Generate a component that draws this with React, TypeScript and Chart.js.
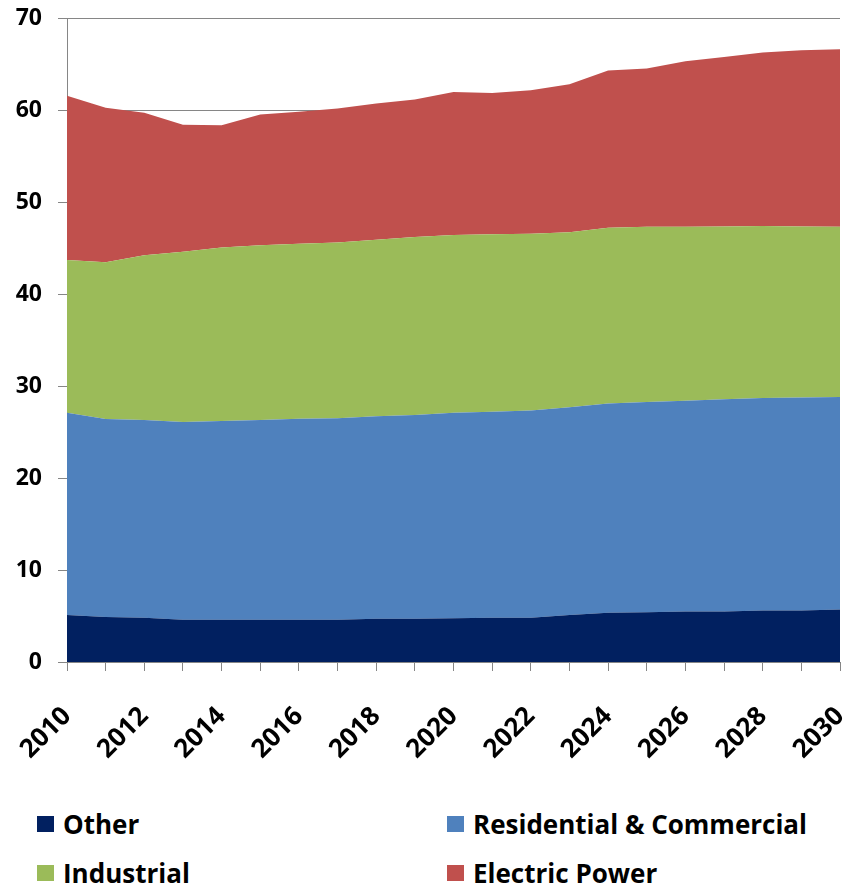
import React, { useEffect, useRef } from "react";
import { Chart, registerables } from "chart.js";

Chart.register(...registerables);

const years = [
  "2010", "2011", "2012", "2013", "2014", "2015", "2016", "2017", "2018", "2019", "2020",
  "2021", "2022", "2023", "2024", "2025", "2026", "2027", "2028", "2029", "2030",
];

const other = [5.1, 4.9, 4.8, 4.6, 4.6, 4.6, 4.6, 4.6, 4.7, 4.7, 4.75, 4.8, 4.8, 5.1, 5.35, 5.4, 5.5, 5.5, 5.6, 5.6, 5.7];
const residential = [22.0, 21.5, 21.5, 21.5, 21.6, 21.7, 21.85, 21.9, 22.0, 22.15, 22.35, 22.4, 22.55, 22.6, 22.75, 22.85, 22.9, 23.05, 23.1, 23.15, 23.1];
const industrial = [16.6, 17.05, 17.9, 18.5, 18.85, 19.0, 19.0, 19.1, 19.2, 19.35, 19.3, 19.3, 19.2, 19.0, 19.1, 19.05, 18.9, 18.8, 18.7, 18.6, 18.5];
const electric = [17.85, 16.8, 15.5, 13.8, 13.3, 14.2, 14.35, 14.55, 14.8, 14.95, 15.55, 15.35, 15.6, 16.1, 17.1, 17.2, 18.0, 18.4, 18.85, 19.15, 19.3];

const seriesNames = ["Other", "Residential & Commercial", "Industrial", "Electric Power"];
const seriesColors = ["#012060", "#4F81BD", "#9BBB59", "#C0504D"];
const seriesValues = [other, residential, industrial, electric];

const FONT = "'Open Sans', Lato, sans-serif";

export default function App() {
  const canvasRef = useRef<HTMLCanvasElement | null>(null);

  useEffect(() => {
    const canvas = canvasRef.current;
    if (!canvas) return;
    const chart = new Chart(canvas, {
      type: "line",
      data: {
        labels: years,
        datasets: seriesValues.map((vals, i) => ({
          label: seriesNames[i],
          data: vals,
          backgroundColor: seriesColors[i],
          borderColor: seriesColors[i],
          borderWidth: 0,
          pointRadius: 0,
          pointHoverRadius: 0,
          tension: 0,
          fill: i === 0 ? "origin" : "-1",
        })),
      },
      options: {
        responsive: false,
        animation: false,
        devicePixelRatio: 1,
        layout: { padding: { top: 18, right: 20, left: 0, bottom: 0 } },
        plugins: {
          legend: { display: false },
          tooltip: { enabled: false },
        },
        scales: {
          x: {
            type: "category",
            offset: false,
            grid: {
              display: true,
              drawOnChartArea: false,
              drawTicks: true,
              tickLength: 9,
              color: "#868686",
              lineWidth: 1,
            },
            border: { display: true, color: "#868686", width: 1 },
            ticks: {
              autoSkip: false,
              minRotation: 45,
              maxRotation: 45,
              padding: 30,
              color: "#000",
              font: { family: FONT, size: 26, weight: "bold" },
              callback: (_v: any, idx: number) => (idx % 2 === 0 ? years[idx] : ""),
            },
            afterFit: (scale: any) => {
              scale.height = 780 - 662;
              scale.paddingLeft = 0;
              scale.paddingRight = 0;
            },
          },
          y: {
            stacked: true,
            min: 0,
            max: 70,
            grid: {
              color: "#868686",
              lineWidth: 1,
              drawTicks: true,
              tickLength: 9,
            },
            border: { display: true, color: "#868686", width: 1 },
            ticks: {
              stepSize: 10,
              padding: 16,
              color: "#000",
              font: { family: FONT, size: 23, weight: "bold" },
            },
            afterFit: (scale: any) => {
              scale.width = 67;
              scale.paddingTop = 0;
              scale.paddingBottom = 0;
            },
          },
        },
      },
    } as any);
    return () => chart.destroy();
  }, []);

  const legendPos = [
    { left: 37, top: 808 },
    { left: 447, top: 808 },
    { left: 37, top: 857 },
    { left: 447, top: 857 },
  ];

  return (
    <div style={{ position: "absolute", left: 0, top: 0, width: 860, height: 889, background: "#fff" }}>
      <canvas ref={canvasRef} width={860} height={780} style={{ display: "block", width: 860, height: 780 }} />
      {seriesNames.map((name, i) => (
        <div
          key={name}
          style={{
            position: "absolute",
            left: legendPos[i].left,
            top: legendPos[i].top,
            height: 32,
            display: "flex",
            alignItems: "center",
            fontFamily: FONT,
            fontWeight: "bold",
            fontSize: 26,
            color: "#000",
            whiteSpace: "nowrap",
          }}
        >
          <span style={{ display: "inline-block", width: 17, height: 16, background: seriesColors[i], marginRight: 9 }} />
          <span>{name}</span>
        </div>
      ))}
    </div>
  );
}
